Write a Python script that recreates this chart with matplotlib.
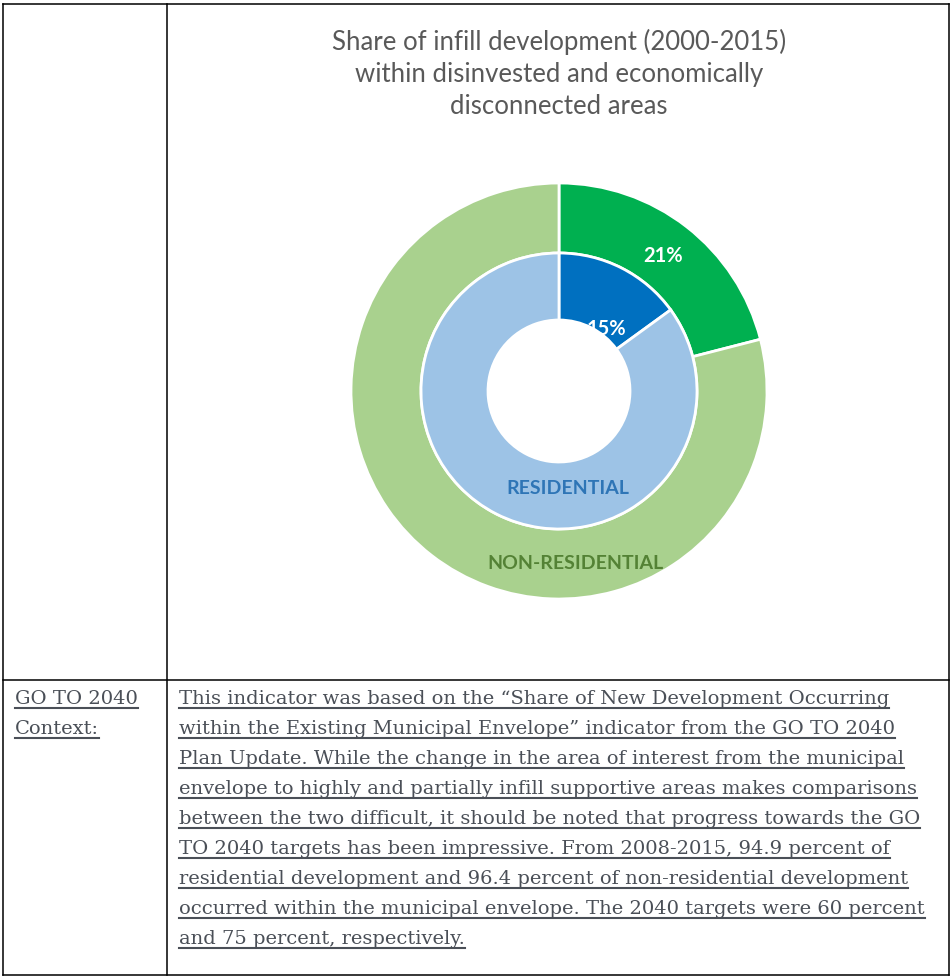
import matplotlib
matplotlib.use("Agg")
import matplotlib.pyplot as plt
from matplotlib.lines import Line2D

# Donut values (percent)
outer_vals = [21, 79]       # non-residential infill vs rest
inner_vals = [15, 85]       # residential infill vs rest
outer_colors = ["#00B050", "#A9D18E"]
inner_colors = ["#0070C0", "#9DC3E6"]

title_lines = ["Share of infill development (2000-2015)",
               "within disinvested and economically",
               "disconnected areas"]

left_lines = ["GO TO 2040", "Context:"]
body_lines = [
    "This indicator was based on the \u201cShare of New Development Occurring",
    "within the Existing Municipal Envelope\u201d indicator from the GO TO 2040",
    "Plan Update. While the change in the area of interest from the municipal",
    "envelope to highly and partially infill supportive areas makes comparisons",
    "between the two difficult, it should be noted that progress towards the GO",
    "TO 2040 targets has been impressive. From 2008-2015, 94.9 percent of",
    "residential development and 96.4 percent of non-residential development",
    "occurred within the municipal envelope. The 2040 targets were 60 percent",
    "and 75 percent, respectively.",
]

W, H = 952, 977
fig = plt.figure(figsize=(W / 100, H / 100), dpi=100)
fig.patch.set_facecolor("white")


def px(x, y):
    return x / W, 1 - y / H


# table grid
grid = [((3, 4), (949, 4)), ((3, 975), (949, 975)), ((3, 4), (3, 975)),
        ((949, 4), (949, 975)), ((167, 4), (167, 975)), ((3, 680), (949, 680))]
for (x0, y0), (x1, y1) in grid:
    a, b = px(x0, y0)
    c, d = px(x1, y1)
    fig.add_artist(Line2D([a, c], [b, d], color="black", lw=1.1))

# title
for i, t in enumerate(title_lines):
    fig.text(*px(559, 50 + i * 32), t, ha="center", va="baseline",
             fontsize=18.5, family="Lato", color="#595959")

# donut
cx, cy, R = 559, 391, 208
half = 215
x0, y1 = px(cx - half, cy + half)
ax = fig.add_axes([x0, y1, 2 * half / W, 2 * half / H])
ax.pie(outer_vals, radius=1, colors=outer_colors, startangle=90, counterclock=False,
       wedgeprops=dict(width=70 / R, edgecolor="white", linewidth=2))
ax.pie(inner_vals, radius=138 / R, colors=inner_colors, startangle=90, counterclock=False,
       wedgeprops=dict(width=67 / R, edgecolor="white", linewidth=2))
ax.set_xlim(-half / R, half / R)
ax.set_ylim(-half / R, half / R)
ax.set_aspect("equal")
ax.axis("off")

lab = dict(ha="center", va="center", family="Lato", fontweight="bold")
ax.text(0.50, 0.65, f"{outer_vals[0]}%", color="white", fontsize=14.5, **lab)
ax.text(0.23, 0.30, f"{inner_vals[0]}%", color="white", fontsize=14.5, **lab)
ax.text(0.043, -0.47, "RESIDENTIAL", color="#2E75B6", fontsize=14, **lab)
ax.text(0.08, -0.83, "NON-RESIDENTIAL", color="#548235", fontsize=14, **lab)

# context text, underlined
txt_color = "#4A4F57"
texts = []
for i, t in enumerate(left_lines):
    texts.append(fig.text(*px(15, 704 + i * 30), t, ha="left", va="baseline",
                          fontsize=14, family="DejaVu Serif", color=txt_color))
for i, t in enumerate(body_lines):
    texts.append(fig.text(*px(179, 704 + i * 30), t, ha="left", va="baseline",
                          fontsize=14, family="DejaVu Serif", color=txt_color))

fig.canvas.draw()
r = fig.canvas.get_renderer()
for t in texts:
    bb = t.get_window_extent(r)
    yb = t.get_position()[1] * H - 4
    fig.add_artist(Line2D([bb.x0 / W, bb.x1 / W], [yb / H, yb / H],
                          color=txt_color, lw=1.5))

fig.savefig("out.png", dpi=100, facecolor="white")
